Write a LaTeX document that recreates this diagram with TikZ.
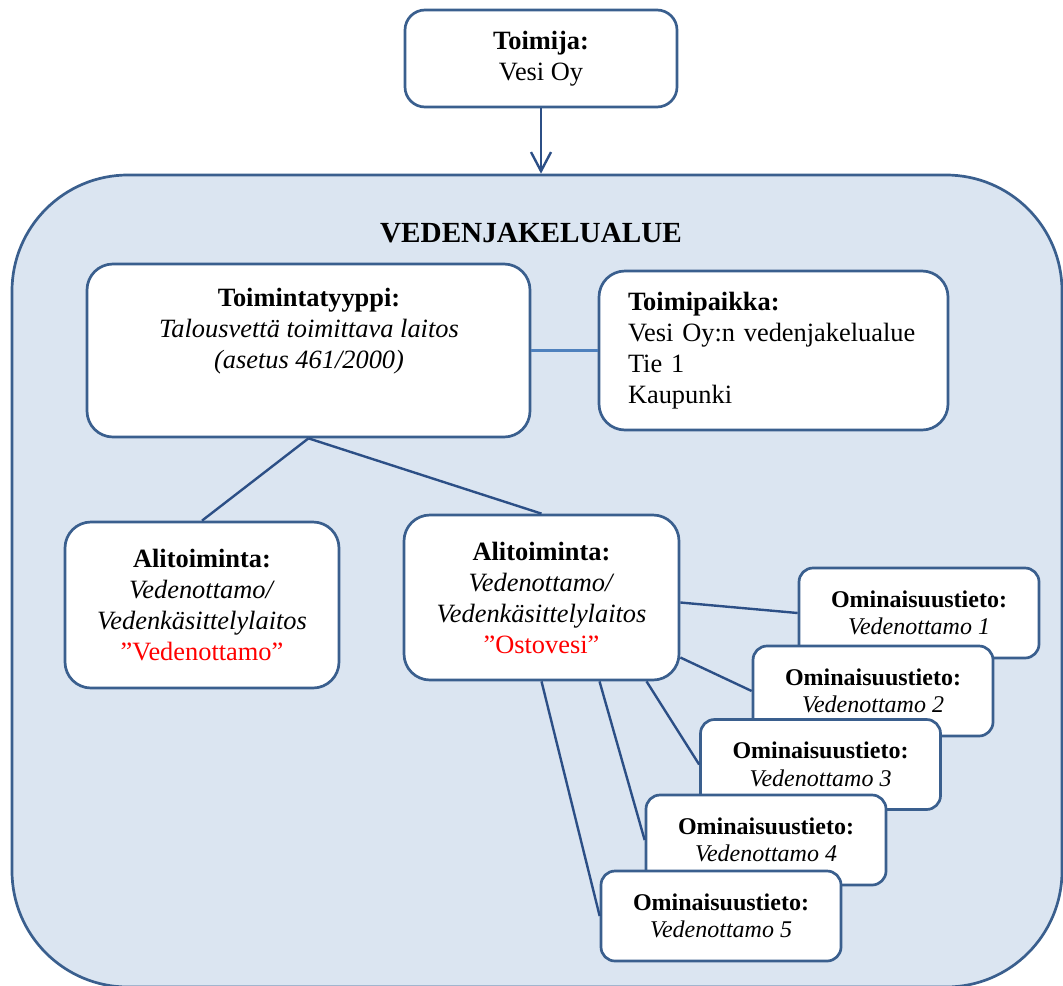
\documentclass[tikz,border=0pt]{standalone}
\usepackage{fontspec}
\setmainfont{Liberation Serif}
\usepackage{xcolor}
\usetikzlibrary{arrows.meta,calc}
\definecolor{AreaFill}{HTML}{DBE5F1}
\definecolor{AreaBorder}{HTML}{3A5F8E}
\definecolor{LinkLight}{HTML}{4F81BD}
\definecolor{LinkDark}{HTML}{2C4F86}
\definecolor{NameRed}{HTML}{FF0000}

\begin{document}
\begin{tikzpicture}[x=0.5pt,y=-0.5pt,
  narea/.style={draw=AreaBorder,fill=AreaFill,line width=1.35pt,
    rounded corners=58pt,minimum width=525pt,minimum height=406pt,
    inner sep=0pt},
  nbox/.style={draw=AreaBorder,fill=white,line width=1.35pt,
    rounded corners=13pt,inner sep=0pt,align=center,
    font=\fontsize{13.2}{15.5}\selectfont},
  nprop/.style={draw=AreaBorder,fill=white,line width=1.35pt,
    rounded corners=7pt,minimum width=120pt,minimum height=45pt,
    inner sep=0pt,align=center,font=\fontsize{12}{13.8}\selectfont},
  ntxt/.style={align=center,inner sep=0pt,
    font=\fontsize{13.2}{15.5}\selectfont},
  ttl/.style={font=\fontsize{14.6}{17}\selectfont\bfseries},
  arr/.style={-{Straight Barb[length=9.5pt,width=10pt]},draw=LinkDark,
    line width=1.2pt},
  lnk/.style={draw=LinkDark,line width=1.2pt},
  lnkl/.style={draw=LinkLight,line width=1.2pt}
]
\useasboundingbox (0,0) rectangle (1063,985);
\clip (0,0) rectangle (1063,985);
% Area and operator
\node[narea] (alue) at (537,581) {};
\node[nbox,rounded corners=10pt,minimum width=136pt,minimum height=48.5pt]
  (toimija) at (541,58.5) {\textbf{Toimija:}\\Vesi Oy};
\draw[arr] (toimija.south) -- (toimija.south |- alue.north);
\node[ttl] (otsikko) at (531,233) {VEDENJAKELUALUE};
% Type and location
\node[nbox,minimum width=221.5pt,minimum height=86.5pt] (tyyppi)
  at (308.5,350.5) {};
\node[ntxt] (tyyppiT) at (309,331)
  {\textbf{Toimintatyyppi:}\\\textit{Talousvettä toimittava laitos}\\
   \textit{(asetus 461/2000)}};
\node[nbox,minimum height=79.5pt,align=left,inner xsep=14.5pt,
  text width=145.5pt] (paikka) at (773.5,350.5)
  {\textbf{Toimipaikka:}\\Vesi Oy:n vedenjakelualue\\Tie 1\\Kaupunki};
\draw[lnkl] (tyyppi.east) -- (paikka.west);
% Sub-activities
\node[nbox,minimum width=137pt,minimum height=83pt] (aliA) at (202,605)
  {\textbf{Alitoiminta:}\\\textit{Vedenottamo/}\\
   \textit{Vedenkäsittelylaitos}\\\textcolor{NameRed}{”Vedenottamo”}};
\node[nbox,minimum width=137.5pt,minimum height=82.5pt] (aliB)
  at (541.5,597.5)
  {\textbf{Alitoiminta:}\\\textit{Vedenottamo/}\\
   \textit{Vedenkäsittelylaitos}\\\textcolor{NameRed}{”Ostovesi”}};
\draw[lnk] (tyyppi.south) -- (aliA.north);
\draw[lnk] (tyyppi.south) -- (aliB.north);
% Property records, stacked
\node[nprop] (omi1) at (919,613)
  {\textbf{Ominaisuustieto:}\\\textit{Vedenottamo 1}};
\node[nprop] (omi2) at (873,691)
  {\textbf{Ominaisuustieto:}\\\textit{Vedenottamo 2}};
\node[nprop] (omi3) at (820.5,764.5)
  {\textbf{Ominaisuustieto:}\\\textit{Vedenottamo 3}};
\node[nprop] (omi4) at (766,840)
  {\textbf{Ominaisuustieto:}\\\textit{Vedenottamo 4}};
\node[nprop] (omi5) at (721,916)
  {\textbf{Ominaisuustieto:}\\\textit{Vedenottamo 5}};
\draw[lnk] ($(aliB.east)+(0,5)$) -- (omi1.west);
\draw[lnk] ($(aliB.east)+(0,60)$) -- (omi2.west);
\draw[lnk] ($(aliB.south)+(105,0)$) -- (omi3.west);
\draw[lnk] ($(aliB.south)+(58,0)$) -- (omi4.west);
\draw[lnk] (aliB.south) -- (omi5.west);
\end{tikzpicture}
\end{document}
